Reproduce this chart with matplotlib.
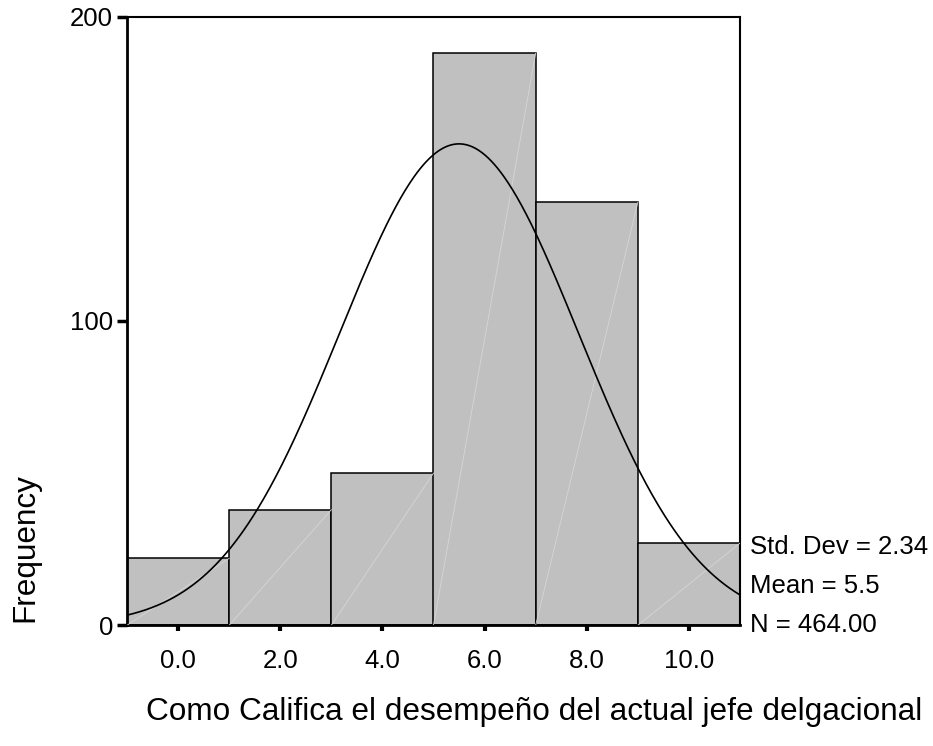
import numpy as np
import matplotlib
matplotlib.use("Agg")
import matplotlib.pyplot as plt

plt.rcParams["font.family"] = ["Liberation Sans", "DejaVu Sans"]

# histogram data (bin centres, counts)
binCenters = [0.0, 2.0, 4.0, 6.0, 8.0, 10.0]
counts = [22, 38, 50, 188, 139, 27]
binWidth = 2.0
xTickLabels = ["0.0", "2.0", "4.0", "6.0", "8.0", "10.0"]
yTicks = [0, 100, 200]

stdDev = 2.34
mean = 5.5
n = 464.00
statLines = ["Std. Dev = 2.34", "Mean = 5.5", "N = 464.00"]

xLabel = "Como Califica el desempeño del actual jefe delgacional"
yLabel = "Frequency"

fig = plt.figure(figsize=(9.33, 7.46), dpi=100)
ax = fig.add_axes([127/933, 1-625.3/746, (740-127)/933, (625.3-16.7)/746])

ax.bar(binCenters, counts, width=binWidth, color="#c0c0c0", edgecolor="black",
       linewidth=1.1, zorder=2)

# faint diagonal streaks inside each bar
for c, h in zip(binCenters, counts):
    ax.plot([c-binWidth/2, c+binWidth/2], [0, h], color="#d6d6d6", lw=0.6, zorder=3)

# normal curve
xs = np.linspace(-1, 11, 400)
ys = n*binWidth/(stdDev*np.sqrt(2*np.pi))*np.exp(-0.5*((xs-mean)/stdDev)**2)
ax.plot(xs, ys, color="black", lw=1.2, zorder=4)

ax.set_xlim(-1, 11)
ax.set_ylim(0, 200)
ax.set_xticks(binCenters)
ax.set_xticklabels(xTickLabels)
ax.set_yticks(yTicks)
ax.tick_params(axis="x", direction="out", length=4, width=3, labelsize=18.5, pad=13)
ax.tick_params(axis="y", direction="out", length=7, width=2.5, labelsize=18.5, pad=3)

for side in ["left", "bottom"]:
    ax.spines[side].set_linewidth(2)
for side in ["top", "right"]:
    ax.spines[side].set_linewidth(1.5)

#stat text on the right
for i, line in enumerate(statLines):
    fig.text(750/933, 1-(547+39*i)/746, line, fontsize=18.5, ha="left", va="center")

fig.text(534/933, 1-712/746, xLabel, fontsize=22.7, ha="center", va="center")
fig.text(25/933, 1-548/746, yLabel, fontsize=22.7, ha="center", va="center", rotation=90)

fig.savefig("out.png", dpi=100)
